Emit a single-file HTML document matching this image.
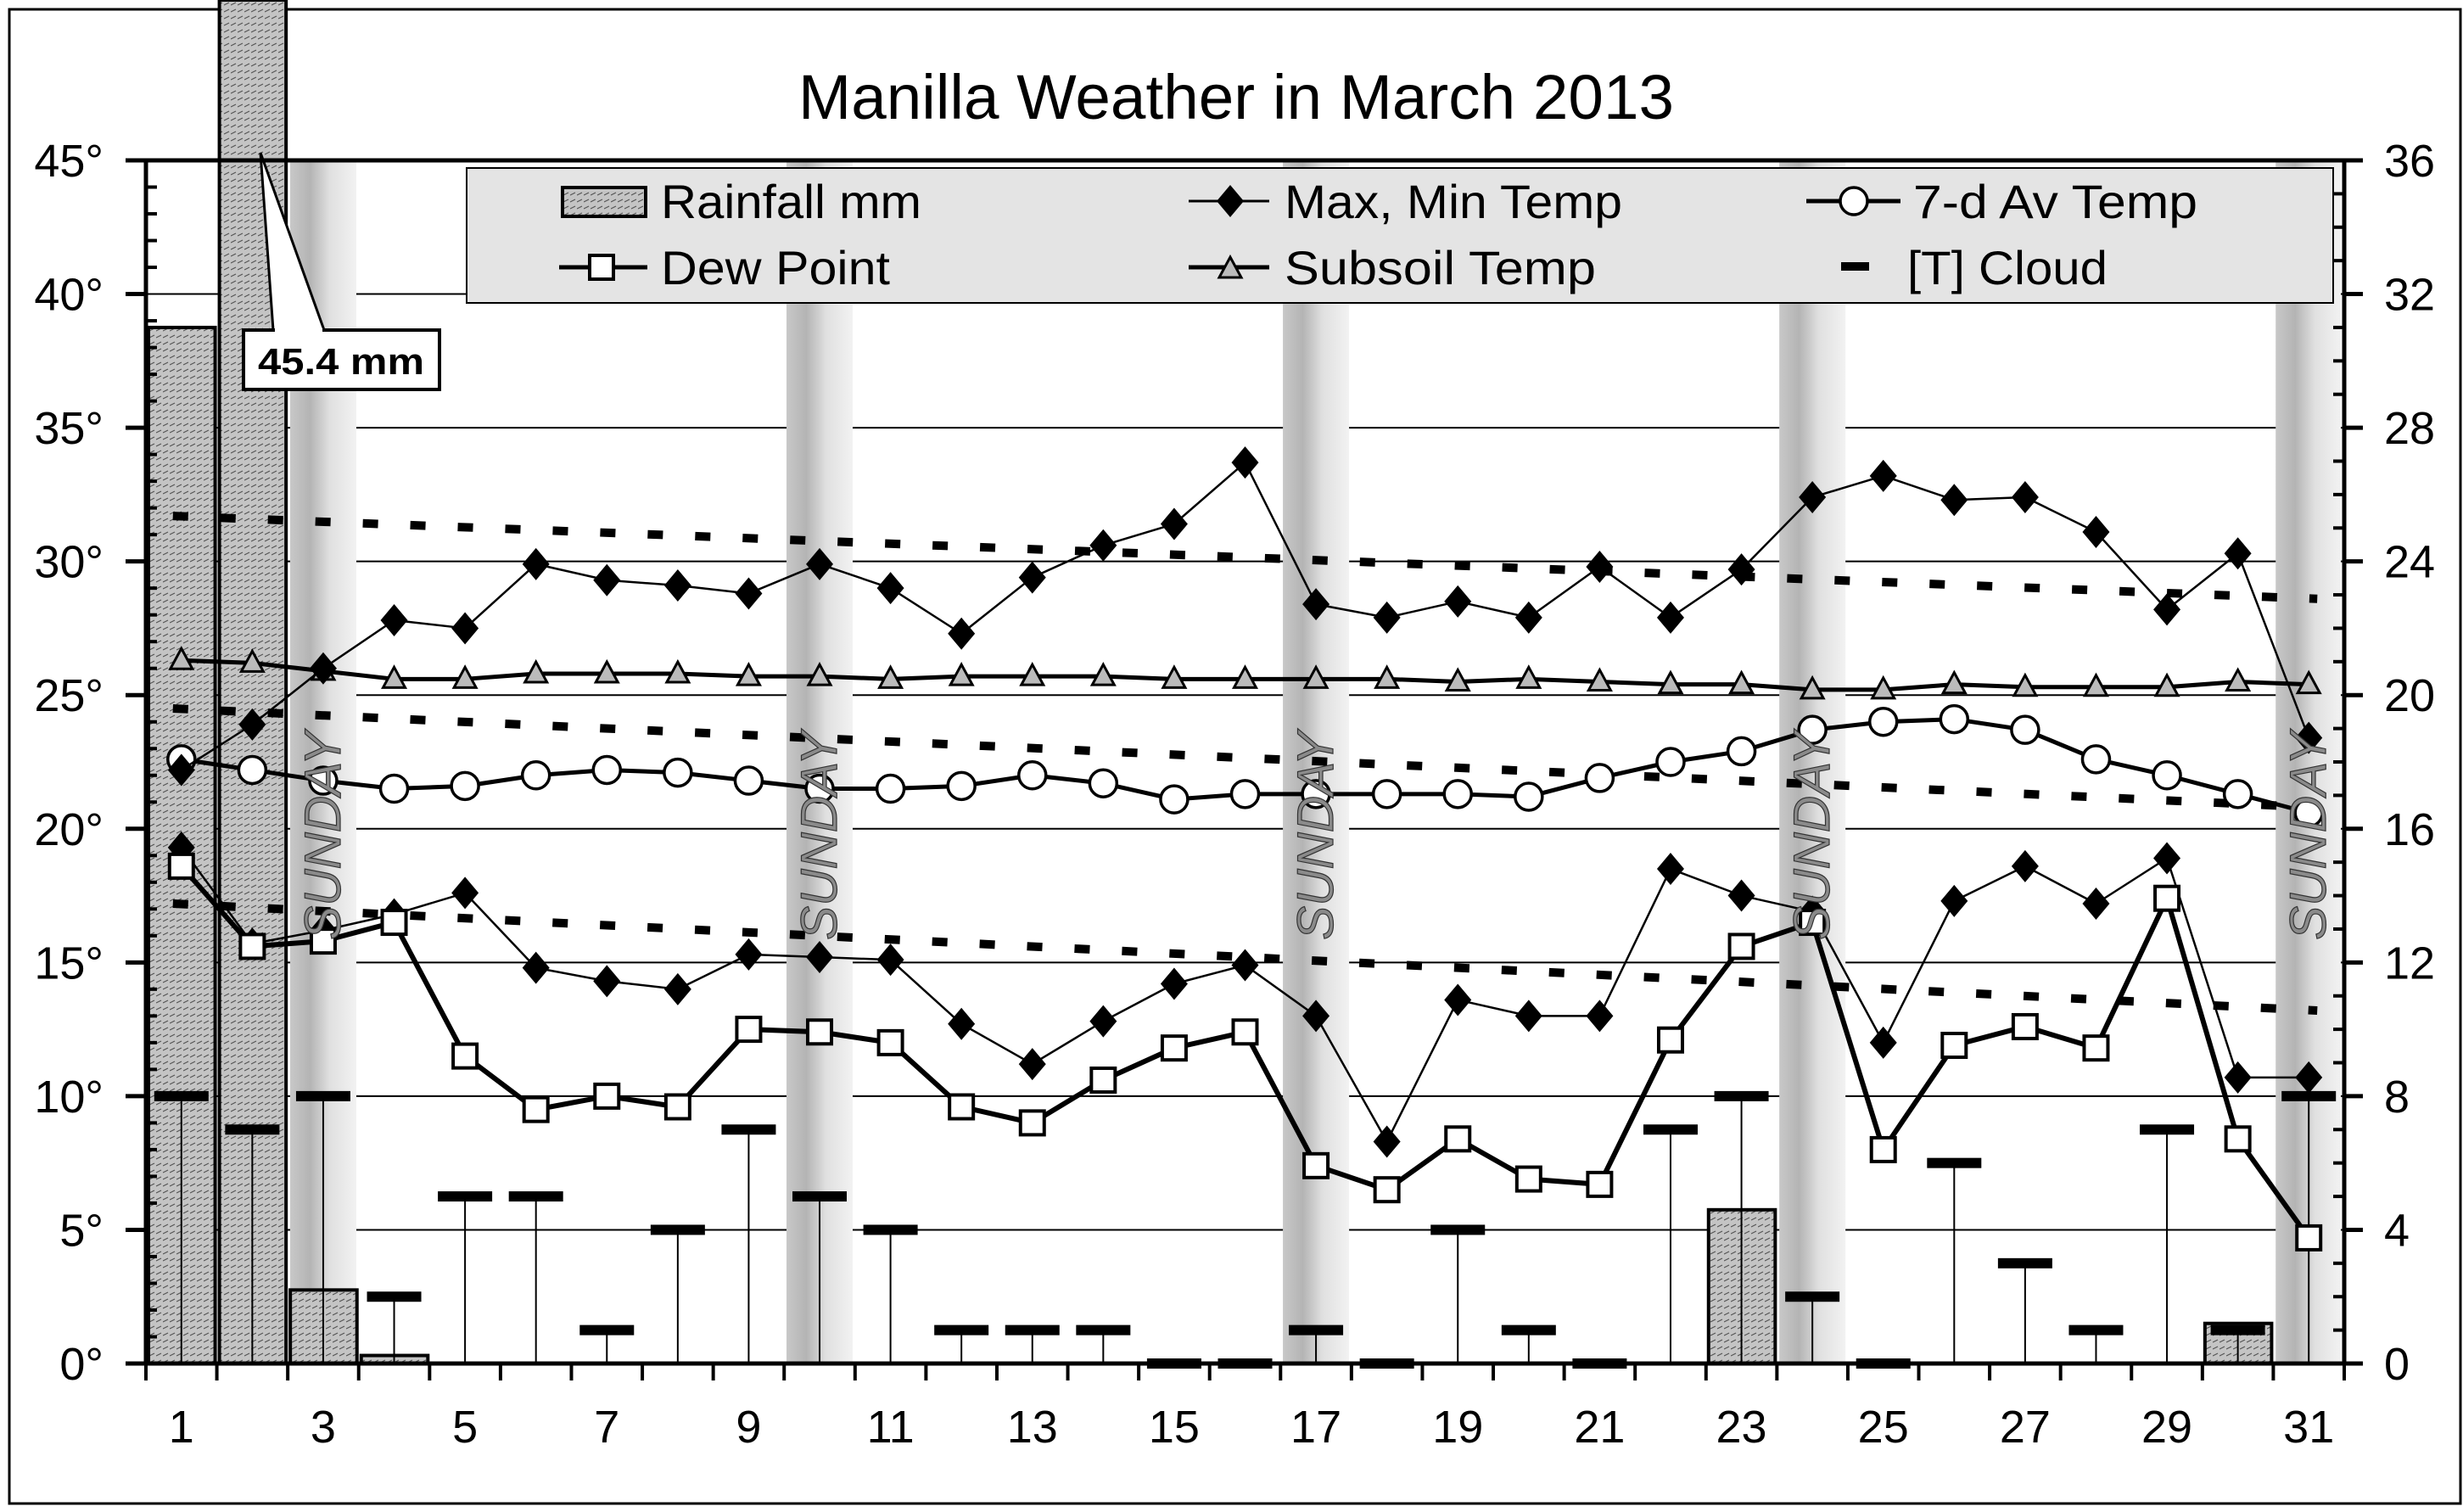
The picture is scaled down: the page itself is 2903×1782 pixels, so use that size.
<!DOCTYPE html>
<html><head><meta charset="utf-8"><style>
html,body{margin:0;padding:0;background:#fff}
svg{display:block}
text{font-family:"Liberation Sans",Arial,sans-serif}
</style></head><body>
<svg id="s" width="2903" height="1782" viewBox="0 0 2903 1782" xmlns="http://www.w3.org/2000/svg">
<defs>
<linearGradient id="sun" x1="0" x2="1" y1="0" y2="0">
<stop offset="0" stop-color="#c8c8c8"/><stop offset="0.3" stop-color="#b4b4b4"/><stop offset="0.6" stop-color="#e0e0e0"/><stop offset="1" stop-color="#f2f2f2"/>
</linearGradient>
<pattern id="hatch" width="8" height="8" patternUnits="userSpaceOnUse">
<rect width="8" height="8" fill="#c4c4c4"/><path d="M0 6 L6 3" stroke="#555" stroke-width="1.2"/>
</pattern>
</defs>
<rect x="11" y="11" width="2889" height="1761" fill="#fff" stroke="#000" stroke-width="3"/>
<text x="1457" y="140" font-size="74" text-anchor="middle" textLength="1032" lengthAdjust="spacingAndGlyphs">Manilla Weather in March 2013</text>
<g id="g"></g>
</svg>
<script>
const L=172,R=2763,T=189,B=1607,W=(R-L)/31;
const X=d=>L+(d-0.5)*W, Y=t=>B-t*(B-T)/45, RY=v=>B-v*(B-T)/36;
let s='';
// grid
for(let t=5;t<=40;t+=5) s+=`<line x1="${L}" x2="${R}" y1="${Y(t)}" y2="${Y(t)}" stroke="#000" stroke-width="2"/>`;
// sunday bands
[3,10,17,24,31].forEach(d=>{let x0=X(d)-39,x1=Math.min(X(d)+39,R-4);s+=`<rect x="${x0}" y="${T}" width="${x1-x0}" height="${B-T}" fill="url(#sun)"/>`;});
// rain bars
const rain={1:31.0,2:60,3:2.2,4:0.24,23:4.6,30:1.2};
for(const d in rain){let v=rain[d];let x0=L+(d-1)*W+3,w=W-5;let y=v>40?0:RY(v);s+=`<rect x="${x0}" y="${y}" width="${w}" height="${B-y}" fill="url(#hatch)" stroke="#000" stroke-width="4"/>`;}
// legend
s+=`<rect x="550" y="198" width="2200" height="159" fill="#e4e4e4" stroke="#000" stroke-width="2"/>`;
// callout
s+=`<path d="M322 389 L307 180 L382 389" fill="#fff" stroke="#000" stroke-width="3"/>`;
s+=`<rect x="287" y="389" width="231" height="70" fill="#fff" stroke="#000" stroke-width="4"/>`;
s+=`<line x1="324" x2="380" y1="389" y2="389" stroke="#fff" stroke-width="5"/>`;
s+=`<text x="402" y="441" font-size="44" font-weight="bold" text-anchor="middle" textLength="196" lengthAdjust="spacingAndGlyphs">45.4 mm</text>`;
// cloud
const cl=[8,7,8,2,5,5,1,4,7,5,4,1,1,1,0,0,1,0,4,1,0,7,8,2,0,6,3,1,7,1,8];
cl.forEach((c,i)=>{let d=i+1,x=X(d),y=RY(c);s+=`<line x1="${x}" x2="${x}" y1="${y}" y2="${B}" stroke="#000" stroke-width="2"/><rect x="${x-32}" y="${y-6}" width="64" height="12" fill="#000"/>`;});
// dashed trend lines
[[31.7,28.6],[24.5,20.8],[17.2,13.2]].forEach(p=>{s+=`<line x1="${X(1)-10}" x2="${X(31)+10}" y1="${Y(p[0])}" y2="${Y(p[1])}" stroke="#000" stroke-width="10" stroke-dasharray="18 38"/>`;});
const mx=[22.2,23.9,26,27.8,27.5,29.9,29.3,29.1,28.8,29.9,29.0,27.3,29.4,30.6,31.4,33.7,28.4,27.9,28.5,27.9,29.8,27.9,29.7,32.4,33.2,32.3,32.4,31.1,28.2,30.3,23.4];
const mn=[19.3,15.7,16.2,16.8,17.6,14.8,14.3,14.0,15.3,15.2,15.1,12.7,11.2,12.8,14.2,14.9,13.0,8.3,13.6,13.0,13.0,18.5,17.5,16.9,12.0,17.3,18.6,17.2,18.9,10.7,10.7];
const dw=[18.6,15.6,15.8,16.5,11.5,9.5,10.0,9.6,12.5,12.4,12.0,9.6,9.0,10.6,11.8,12.4,7.4,6.5,8.4,6.9,6.7,12.1,15.6,16.5,8.0,11.9,12.6,11.8,17.4,8.4,4.7];
const av=[22.6,22.2,21.8,21.5,21.6,22.0,22.2,22.1,21.8,21.5,21.5,21.6,22.0,21.7,21.1,21.3,21.3,21.3,21.3,21.2,21.9,22.5,22.9,23.7,24.0,24.1,23.7,22.6,22.0,21.3,20.6];
const ss=[26.3,26.2,25.9,25.6,25.6,25.8,25.8,25.8,25.7,25.7,25.6,25.7,25.7,25.7,25.6,25.6,25.6,25.6,25.5,25.6,25.5,25.4,25.4,25.2,25.2,25.4,25.3,25.3,25.3,25.5,25.4];
const pl=(a,w)=>`<polyline fill="none" stroke="#000" stroke-width="${w}" stroke-linejoin="round" points="${a.map((v,i)=>X(i+1)+','+Y(v)).join(' ')}"/>`;
const dia=(x,y)=>`<path d="M${x} ${y-19} L${x+16} ${y} L${x} ${y+19} L${x-16} ${y}Z" fill="#000"/>`;
const sq=(x,y)=>`<rect x="${x-14}" y="${y-14}" width="28" height="28" fill="#fff" stroke="#000" stroke-width="4"/>`;
const ci=(x,y)=>`<circle cx="${x}" cy="${y}" r="16" fill="#fff" stroke="#000" stroke-width="3.5"/>`;
const tr=(x,y)=>`<path d="M${x} ${y-14} L${x+13} ${y+10} L${x-13} ${y+10}Z" fill="#bbb" stroke="#000" stroke-width="3"/>`;
s+=pl(ss,5); ss.forEach((v,i)=>s+=tr(X(i+1),Y(v)));
s+=pl(av,5); av.forEach((v,i)=>s+=ci(X(i+1),Y(v)));
s+=pl(mx,2.5); mx.forEach((v,i)=>s+=dia(X(i+1),Y(v)));
s+=pl(mn,2.5); mn.forEach((v,i)=>s+=dia(X(i+1),Y(v)));
s+=pl(dw,6); dw.forEach((v,i)=>s+=sq(X(i+1),Y(v)));
// sunday text
[3,10,17,24,31].forEach(d=>{let x=X(d)+20,y=985;s+=`<text x="${x}" y="${y}" font-size="60" font-style="italic" fill="#8a8a8a" stroke="#333" stroke-width="1.2" text-anchor="middle" transform="rotate(-90 ${x} ${y})">SUNDAY</text>`;});
// axes
s+=`<line x1="${L-24}" x2="${R+22}" y1="${T}" y2="${T}" stroke="#000" stroke-width="5"/>`;
s+=`<line x1="${L-24}" x2="${R+22}" y1="${B}" y2="${B}" stroke="#000" stroke-width="5"/>`;
s+=`<line x1="${L}" x2="${L}" y1="${T}" y2="${B}" stroke="#000" stroke-width="5"/>`;
s+=`<line x1="${R}" x2="${R}" y1="${T}" y2="${B}" stroke="#000" stroke-width="5"/>`;
for(let t=0;t<=45;t++){let y=Y(t);if(t%5==0){s+=`<line x1="${L-24}" x2="${L}" y1="${y}" y2="${y}" stroke="#000" stroke-width="5"/><text x="122" y="${y+19}" font-size="54" text-anchor="end">${t}°</text>`;}else s+=`<line x1="${L}" x2="${L+13}" y1="${y}" y2="${y}" stroke="#000" stroke-width="4"/>`;}
for(let v=0;v<=36;v++){let y=RY(v);if(v%4==0){s+=`<line x1="${R}" x2="${R+22}" y1="${y}" y2="${y}" stroke="#000" stroke-width="5"/><text x="2810" y="${y+19}" font-size="54">${v}</text>`;}else s+=`<line x1="${R-13}" x2="${R}" y1="${y}" y2="${y}" stroke="#000" stroke-width="4"/>`;}
for(let d=0;d<=31;d++){let x=L+d*W;s+=`<line x1="${x}" x2="${x}" y1="${B}" y2="${B+20}" stroke="#000" stroke-width="4"/>`;}
for(let d=1;d<=31;d+=2) s+=`<text x="${X(d)}" y="1700" font-size="54" text-anchor="middle">${d}</text>`;
// legend entries
const lt=(x,y,t,w)=>`<text x="${x}" y="${y}" font-size="56" textLength="${w}" lengthAdjust="spacingAndGlyphs">${t}</text>`;
s+=`<rect x="663" y="221" width="98" height="34" fill="url(#hatch)" stroke="#000" stroke-width="4"/>`+lt(779,257,'Rainfall mm',307);
s+=`<line x1="659" x2="763" y1="315" y2="315" stroke="#000" stroke-width="5"/>`+sq(709,315)+lt(779,335,'Dew Point',270);
s+=`<line x1="1401" x2="1496" y1="237" y2="237" stroke="#000" stroke-width="3"/>`+dia(1450,237)+lt(1514,257,'Max, Min Temp',398);
s+=`<line x1="1401" x2="1496" y1="315" y2="315" stroke="#000" stroke-width="5"/>`+tr(1450,317)+lt(1514,335,'Subsoil Temp',367);
s+=`<line x1="2129" x2="2240" y1="237" y2="237" stroke="#000" stroke-width="5"/>`+ci(2185,237)+lt(2255,257,'7-d Av Temp',335);
s+=`<rect x="2170" y="309" width="33" height="10" fill="#000"/>`+lt(2248,335,'[T] Cloud',236);
document.getElementById('g').innerHTML=s;
</script>
</body></html>
